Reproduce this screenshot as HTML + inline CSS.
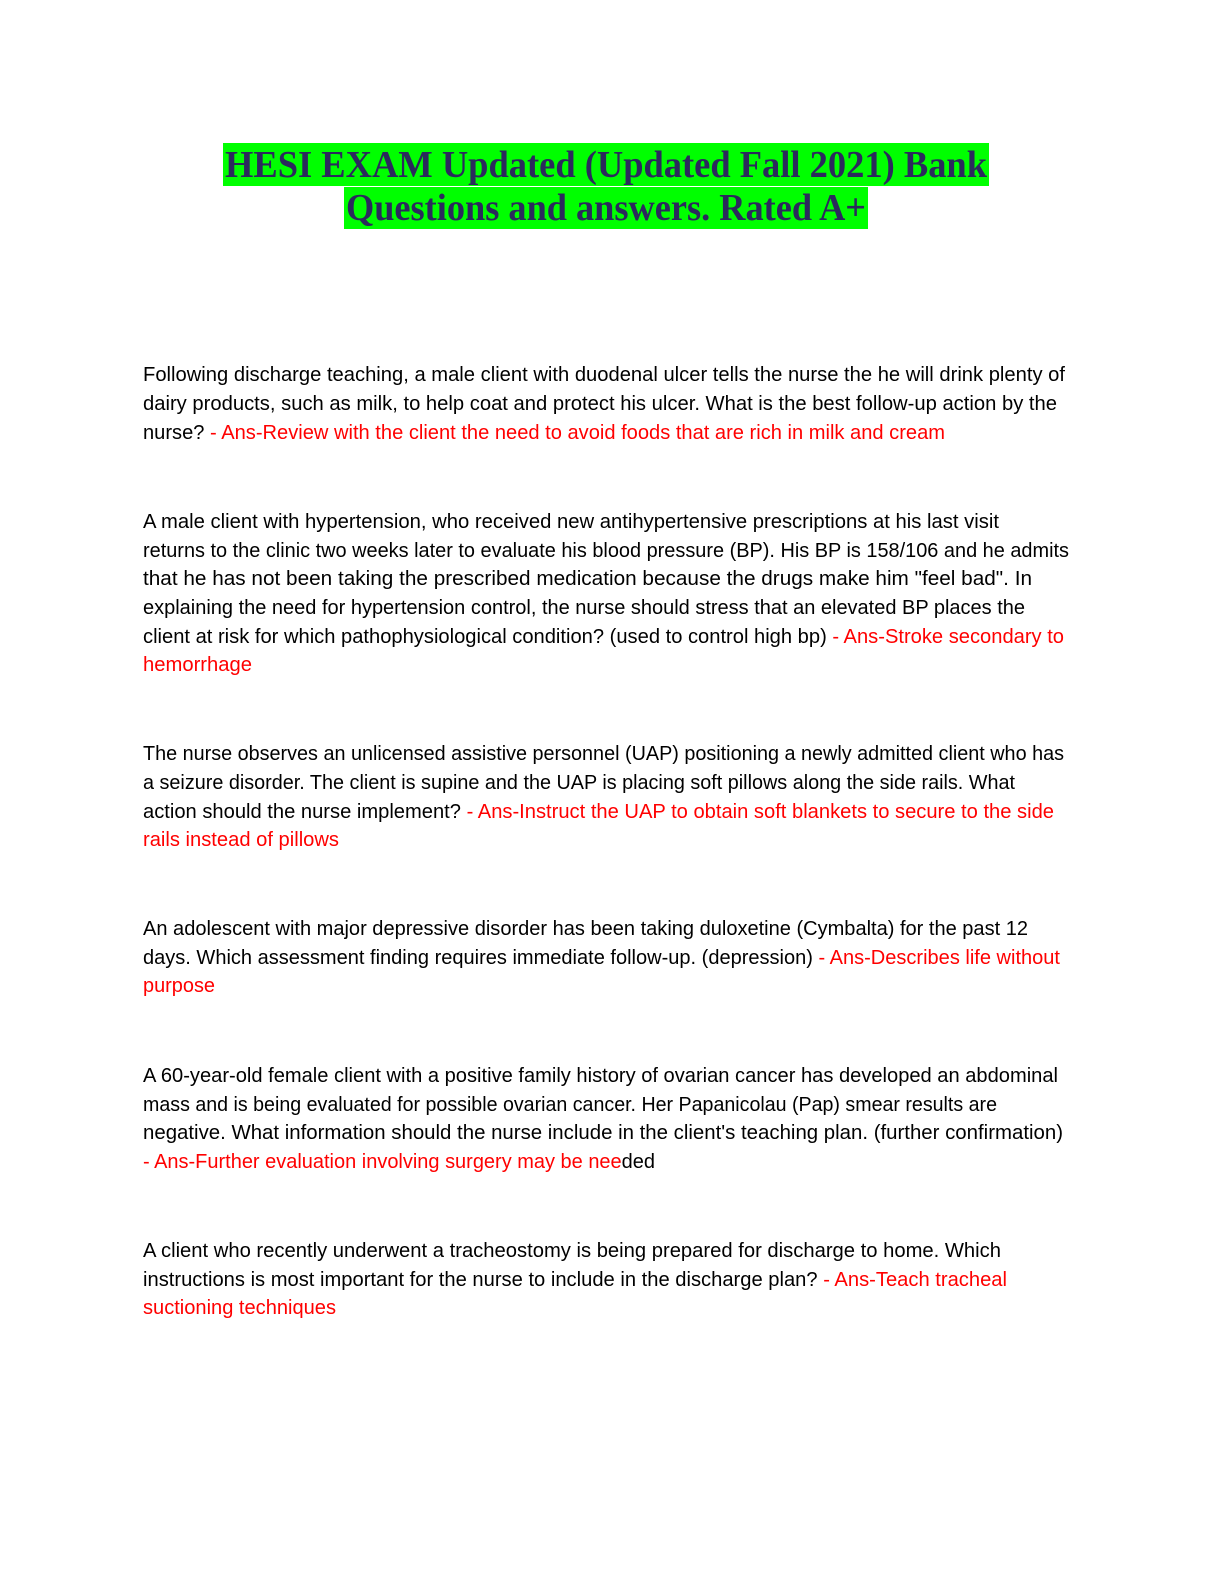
<!DOCTYPE html>
<html><head><meta charset="utf-8"><style>
html,body{margin:0;padding:0;background:#fff;}
svg{display:block}
text{font-family:"Liberation Sans",sans-serif;font-size:20px;fill:#000}
.r{fill:#ff0000}
.t{font-family:"Liberation Serif",serif;font-weight:bold;font-size:38px;fill:#2b2a5c}
</style></head><body>
<svg width="1224" height="1584" xmlns="http://www.w3.org/2000/svg">
<rect x="223" y="143" width="766" height="43" fill="#00ff00"/>
<rect x="344" y="187" width="524" height="42" fill="#00ff00"/>
<text class="t" x="225" y="177" textLength="762" lengthAdjust="spacingAndGlyphs">HESI EXAM Updated (Updated Fall 2021) Bank</text>
<text class="t" x="346" y="220" textLength="520" lengthAdjust="spacingAndGlyphs">Questions and answers. Rated A+</text>

<text x="143" y="381" textLength="922" lengthAdjust="spacingAndGlyphs">Following discharge teaching, a male client with duodenal ulcer tells the nurse the he will drink plenty of</text>
<text x="143" y="410" textLength="914" lengthAdjust="spacingAndGlyphs">dairy products, such as milk, to help coat and protect his ulcer. What is the best follow-up action by the</text>
<text x="143" y="439" textLength="802" lengthAdjust="spacingAndGlyphs">nurse? <tspan class="r">- Ans-Review with the client the need to avoid foods that are rich in milk and cream</tspan></text>

<text x="143" y="528" textLength="856" lengthAdjust="spacingAndGlyphs">A male client with hypertension, who received new antihypertensive prescriptions at his last visit</text>
<text x="143" y="557" textLength="926" lengthAdjust="spacingAndGlyphs">returns to the clinic two weeks later to evaluate his blood pressure (BP). His BP is 158/106 and he admits</text>
<text x="143" y="585" textLength="889" lengthAdjust="spacingAndGlyphs">that he has not been taking the prescribed medication because the drugs make him "feel bad". In</text>
<text x="143" y="614" textLength="882" lengthAdjust="spacingAndGlyphs">explaining the need for hypertension control, the nurse should stress that an elevated BP places the</text>
<text x="143" y="643" textLength="921" lengthAdjust="spacingAndGlyphs">client at risk for which pathophysiological condition? (used to control high bp) <tspan class="r">- Ans-Stroke secondary to</tspan></text>
<text class="r" x="143" y="671" textLength="109" lengthAdjust="spacingAndGlyphs">hemorrhage</text>

<text x="143" y="760" textLength="921" lengthAdjust="spacingAndGlyphs">The nurse observes an unlicensed assistive personnel (UAP) positioning a newly admitted client who has</text>
<text x="143" y="789" textLength="872" lengthAdjust="spacingAndGlyphs">a seizure disorder. The client is supine and the UAP is placing soft pillows along the side rails. What</text>
<text x="143" y="818" textLength="911" lengthAdjust="spacingAndGlyphs">action should the nurse implement? <tspan class="r">- Ans-Instruct the UAP to obtain soft blankets to secure to the side</tspan></text>
<text class="r" x="143" y="846" textLength="196" lengthAdjust="spacingAndGlyphs">rails instead of pillows</text>

<text x="143" y="935" textLength="885" lengthAdjust="spacingAndGlyphs">An adolescent with major depressive disorder has been taking duloxetine (Cymbalta) for the past 12</text>
<text x="143" y="964" textLength="917" lengthAdjust="spacingAndGlyphs">days. Which assessment finding requires immediate follow-up. (depression) <tspan class="r">- Ans-Describes life without</tspan></text>
<text class="r" x="143" y="992" textLength="72" lengthAdjust="spacingAndGlyphs">purpose</text>

<text x="143" y="1082" textLength="915" lengthAdjust="spacingAndGlyphs">A 60-year-old female client with a positive family history of ovarian cancer has developed an abdominal</text>
<text x="143" y="1111" textLength="854" lengthAdjust="spacingAndGlyphs">mass and is being evaluated for possible ovarian cancer. Her Papanicolau (Pap) smear results are</text>
<text x="143" y="1139" textLength="920" lengthAdjust="spacingAndGlyphs">negative. What information should the nurse include in the client's teaching plan. (further confirmation)</text>
<text x="143" y="1168" textLength="512" lengthAdjust="spacingAndGlyphs"><tspan class="r">- Ans-Further evaluation involving surgery may be nee</tspan>ded</text>

<text x="143" y="1257" textLength="858" lengthAdjust="spacingAndGlyphs">A client who recently underwent a tracheostomy is being prepared for discharge to home. Which</text>
<text x="143" y="1286" textLength="864" lengthAdjust="spacingAndGlyphs">instructions is most important for the nurse to include in the discharge plan? <tspan class="r">- Ans-Teach tracheal</tspan></text>
<text class="r" x="143" y="1314" textLength="193" lengthAdjust="spacingAndGlyphs">suctioning techniques</text>
</svg>
</body></html>
